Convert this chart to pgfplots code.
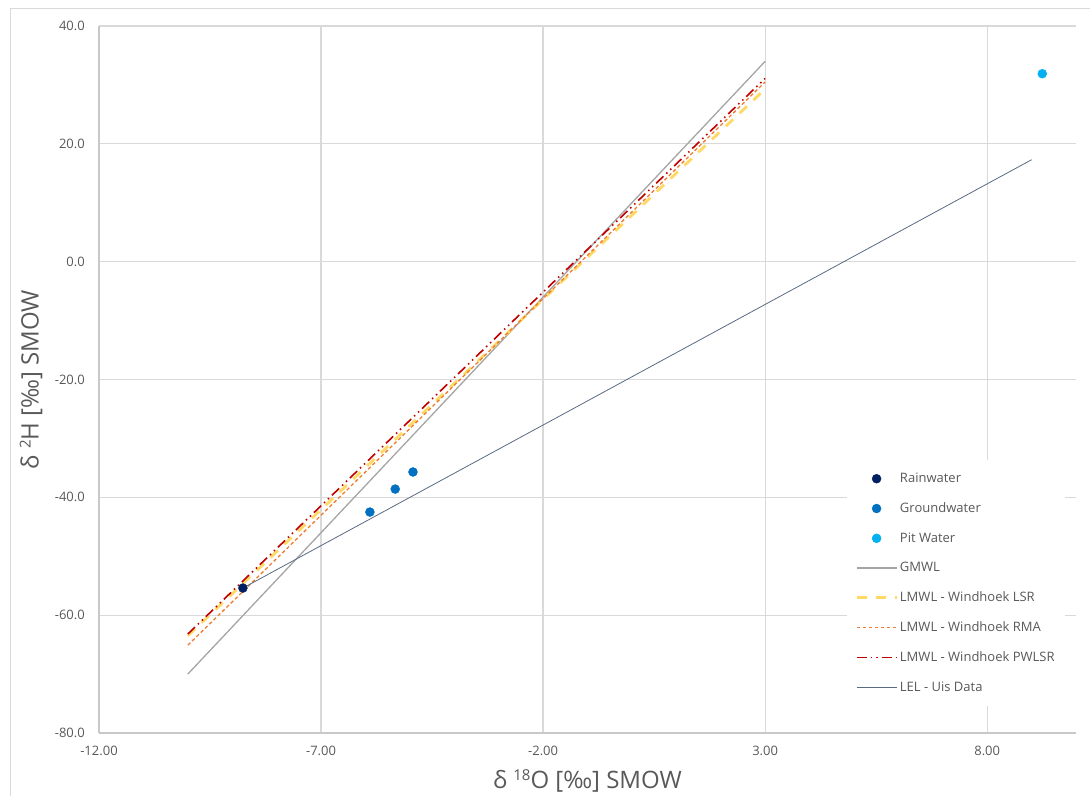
\documentclass[border=0pt]{standalone}
\usepackage{pgfplots}
\pgfplotsset{compat=1.18}
\usepackage{fontspec}
\setmainfont{Open Sans}

\definecolor{gridc}{HTML}{D9D9D9}
\definecolor{axc}{HTML}{C8C8C8}
\definecolor{txt}{HTML}{595959}
\definecolor{rain}{HTML}{002060}
\definecolor{ground}{HTML}{0070C0}
\definecolor{pit}{HTML}{00B0F0}
\definecolor{gmwl}{HTML}{A5A5A5}
\definecolor{lsr}{HTML}{FFD966}
\definecolor{rma}{HTML}{ED7D31}
\definecolor{pwlsr}{HTML}{C00000}
\definecolor{lel}{HTML}{5A6A82}

% superscript for the axis titles
\newcommand\sups[1]{\raisebox{8bp}{\fontsize{15bp}{15bp}\selectfont #1}}
\newcommand\leg[1]{\addlegendentry{\textcolor{txt}{#1}}}

% legend pictures: a single marker, or a 40bp line sample
\pgfplotsset{
  markleg/.style={legend image code/.code={\draw[#1] plot coordinates {(20bp,0bp)};}},
  lineleg/.style={legend image code/.code={\draw[#1] (0bp,0bp) -- (40bp,0bp);}},
}

\begin{document}
\begin{tikzpicture}[x=1bp,y=1bp]
\useasboundingbox (0,0) rectangle (1090,796);
% chart area frame (cut off at right and bottom)
\draw[gridc, line width=1bp] (10,0) -- (10,787) -- (1090,787);
\begin{axis}[
  at={(99bp,63bp)}, anchor=south west,
  scale only axis, width=977bp, height=707bp,
  xmin=-12, xmax=10, ymin=-80, ymax=40,
  xtick={-12,-7,-2,3,8}, ytick={-80,-60,...,40},
  axis x line*=bottom, axis y line*=left,
  axis line style={-, axc, line width=1.3bp},
  major tick length=0pt,
  grid=major, grid style={gridc, line width=1.3bp},
  /pgf/number format/assume math mode=true,
  tick label style={font=\fontsize{13bp}{15bp}\selectfont, text=txt},
  x tick label style={/pgf/number format/fixed, /pgf/number format/fixed zerofill,
    /pgf/number format/precision=2, anchor=north, inner sep=0pt, yshift=-13bp},
  y tick label style={/pgf/number format/fixed, /pgf/number format/fixed zerofill,
    /pgf/number format/precision=1, anchor=east, inner sep=0pt, xshift=-14bp},
  xlabel={δ \sups{18}O [‰] SMOW},
  ylabel={δ \sups{2}H [‰] SMOW},
  label style={font=\fontsize{24bp}{26bp}\selectfont, text=txt},
  xlabel style={at={(axis description cs:0.5,0)}, anchor=center, yshift=-48bp},
  ylabel style={at={(axis description cs:0,0.5)}, anchor=center, yshift=68bp},
  lineleg,
  legend cell align=left,
  legend style={at={(rel axis cs:0.7656,0.3861)}, anchor=north west,
    draw=none, fill=white, font=\fontsize{13bp}{15bp}\selectfont,
    inner xsep=8bp, inner ysep=11bp, row sep=14.6bp,
    /tikz/every even column/.append style={column sep=5bp}},
]
% legend entries for the sample points (the points are drawn last, on top)
\addlegendimage{only marks, mark=*, mark size=4.5bp, draw=rain, fill=rain, markleg}
\leg{Rainwater}
\addlegendimage{only marks, mark=*, mark size=4.5bp, draw=ground, fill=ground, markleg}
\leg{Groundwater}
\addlegendimage{only marks, mark=*, mark size=4.5bp, draw=pit, fill=pit, markleg}
\leg{Pit Water}

% meteoric water lines
\addplot[draw=gmwl, line width=1.3bp] coordinates {(-10,-70) (3,34)};
\leg{GMWL}
\addplot[draw=lsr, line width=2.8bp, dash pattern=on 10bp off 9bp] coordinates {(-10,-63.5) (3,29.3)};
\leg{LMWL - Windhoek LSR}
\addplot[draw=rma, line width=1.3bp, dash pattern=on 3.5bp off 2.5bp] coordinates {(-10,-65.1) (3,30.5)};
\leg{LMWL - Windhoek RMA}
\addplot[draw=pwlsr, line width=1.6bp, dash pattern=on 10bp off 4bp on 1.5bp off 4bp on 1.5bp off 4bp] coordinates {(-10,-63.2) (3,31.1)};
\leg{LMWL - Windhoek PWLSR}
\addplot[draw=lel, line width=0.8bp] coordinates {(-8.76,-55.4) (9.0,17.3)};
\leg{LEL - Uis Data}

% samples
\addplot[only marks, mark=*, mark size=4.5bp, rain, forget plot] coordinates {(-8.76,-55.4)};
\addplot[only marks, mark=*, mark size=4.5bp, ground, forget plot] coordinates {(-5.90,-42.5) (-5.33,-38.6) (-4.93,-35.7)};
\addplot[only marks, mark=*, mark size=4.5bp, pit, forget plot] coordinates {(9.24,31.9)};
\end{axis}
\end{tikzpicture}
\end{document}
